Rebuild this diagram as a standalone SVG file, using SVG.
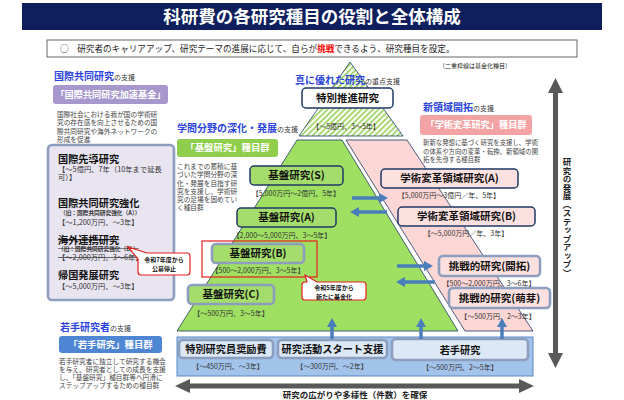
<svg xmlns="http://www.w3.org/2000/svg" width="624" height="400" viewBox="0 0 624 400">
<defs>
<style>
text{font-family:"Noto Sans CJK JP","Noto Sans CJK SC",sans-serif;fill:#222}
.title{font-size:17.5px;font-weight:bold;fill:#fff}
.sub{font-size:8.6px;fill:#222}
.blue{font-size:10px;font-weight:bold;fill:#2b45dc}
.suf{font-size:7px;fill:#333;font-weight:normal}
.desc{font-size:6.7px;fill:#444}
.grp{font-size:9.4px;font-weight:bold;fill:#fff}
.lbl{font-size:10.5px;font-weight:bold;fill:#111}
.llbl{font-size:10.2px;font-weight:bold;fill:#111}
.price{font-size:7px;fill:#333}
.lprice{font-size:7.3px;fill:#333}
.old{font-size:5.7px;font-weight:bold;fill:#333}
.strike{text-decoration:line-through}
.call{font-size:6px;font-weight:bold;fill:#111}
.std{stroke:#1f3864;stroke-width:1.5}
.fund{stroke:#8c9dbd;stroke-width:2.6}
.barr{stroke:#4a7ebb;stroke-width:3.5;fill:none}
.c{text-anchor:middle}
</style>
<pattern id="hatch" patternUnits="userSpaceOnUse" width="4" height="4" patternTransform="rotate(45)">
<rect width="4" height="4" fill="#fff"/>
<line x1="1" y1="0" x2="1" y2="4" stroke="#92d050" stroke-width="1.6"/>
</pattern>
<marker id="ah" viewBox="0 0 9 10" refX="2" refY="5" markerWidth="9" markerHeight="10" markerUnits="userSpaceOnUse" orient="auto">
<path d="M0,0 L9,5 L0,10 z" fill="#4a7ebb"/>
</marker>
</defs>

<!-- title -->
<g id="title">
<rect x="22" y="3" width="580" height="27" fill="#0f1f5e"/>
<text class="title c" x="312" y="23.3">科研費の各研究種目の役割と全体構成</text>
</g>
<g id="subtitle">
<rect x="47" y="40" width="530" height="17" fill="#fff" stroke="#666" stroke-width="1"/>
<text class="sub" x="60" y="51.6">○　研究者のキャリアアップ、研究テーマの進展に応じて、自らが<tspan fill="#ff0000" font-weight="bold">挑戦</tspan>できるよう、研究種目を設定。</text>
</g>
<text class="c" x="475" y="68.2" font-size="6" fill="#333">（二重枠線は基金化種目）</text>

<!-- pyramid shapes -->
<g id="pyramid">
<polygon points="350,62 403,136 299,136" fill="url(#hatch)" stroke="#1f3864" stroke-width="0.8"/>
<polygon points="297,140 342,140 458,331 177,331" fill="#9fe063" stroke="#1f3864" stroke-width="0.8"/>
<polygon points="346,140 407,140 533,331 465,331" fill="#fdd6d6" stroke="#1f3864" stroke-width="0.8"/>
</g>

<!-- left: international -->
<g id="intl-head">
<text x="54" y="79.6"><tspan class="blue">国際共同研究</tspan><tspan class="suf">の支援</tspan></text>
<rect x="53" y="85" width="115" height="19" rx="3" fill="#a698cc"/>
<text class="grp c" x="110.5" y="97.8" style="font-size:9.2px">「国際共同研究加速基金」</text>
<text class="desc" x="57" y="116.9">国際社会における我が国の学術研</text>
<text class="desc" x="57" y="125.2">究の存在感を向上させるための国</text>
<text class="desc" x="57" y="133.5">際共同研究や海外ネットワークの</text>
<text class="desc" x="57" y="141.8">形成を促進</text>
</g>
<g id="intl-box">
<rect x="48" y="145" width="126" height="155" rx="4" fill="#e8e4f0" class="fund"/>
<text class="llbl" x="58" y="163.2">国際先導研究</text>
<text class="lprice" x="58" y="171.6">【～5億円、7年（10年まで延長</text>
<text class="lprice" x="58" y="180.1">可）】</text>
<text class="llbl" x="58" y="206.7">国際共同研究強化</text>
<text class="old" x="60" y="215">（旧：国際共同研究強化（A））</text>
<text class="lprice" x="58" y="224.6">【～1,200万円、～3年】</text>
<text class="llbl strike" x="58" y="243.7">海外連携研究</text>
<text class="old strike" x="58" y="251">（旧：国際共同研究強化（B））</text>
<text class="lprice strike" x="58" y="260.1">【～2,000万円、3～6年】</text>
<text class="llbl" x="58" y="278.7">帰国発展研究</text>
<text class="lprice" x="58" y="288.6">【～5,000万円、～3年】</text>
</g>
<g id="callout-r7">
<path d="M147,253 H187 Q190,253 190,256 V272 Q190,275 187,275 H141 Q138,275 138,272 V259 L128,247 Z" fill="#fff" stroke="#e81e1e" stroke-width="1.2"/>
<text class="call c" x="164" y="261.7">令和7年度から</text>
<text class="call c" x="164" y="270.7">公募停止</text>
</g>

<!-- left bottom: young -->
<g id="young-head">
<text x="60" y="330.6"><tspan class="blue">若手研究者</tspan><tspan class="suf">の支援</tspan></text>
<rect x="59" y="336" width="103" height="17" rx="3" fill="#4f86d4"/>
<text class="grp c" x="110.5" y="347.9">「若手研究」種目群</text>
<text class="desc" x="59" y="364.4">若手研究者に独立して研究する機会</text>
<text class="desc" x="59" y="372.1">を与え、研究者としての成長を支援</text>
<text class="desc" x="59" y="379.8">し、「基盤研究」種目群等へ円滑に</text>
<text class="desc" x="59" y="387.5">ステップアップするための種目群</text>
</g>

<!-- kiban head -->
<g id="kiban-head">
<text x="177" y="131.6"><tspan class="blue">学問分野の深化・発展</tspan><tspan class="suf">の支援</tspan></text>
<rect x="177" y="139" width="101" height="18" rx="3" fill="#8fce4c"/>
<text class="grp c" x="227.5" y="151.4">「基盤研究」種目群</text>
<text class="desc" x="177" y="168.9">これまでの蓄積に基</text>
<text class="desc" x="177" y="177.2">づいた学問分野の深</text>
<text class="desc" x="177" y="185.5">化・発展を目指す研</text>
<text class="desc" x="177" y="193.8">究を支援し、学術研</text>
<text class="desc" x="177" y="202.1">究の足場を固めてい</text>
<text class="desc" x="177" y="210.4">く種目群</text>
</g>

<!-- top -->
<g id="tokubetsu">
<text x="295" y="83.6"><tspan class="blue">真に優れた研究</tspan><tspan class="suf">の重点支援</tspan></text>
<rect x="302" y="88" width="91" height="20" rx="4" fill="#fff" class="std"/>
<text class="lbl c" x="347.5" y="101.8">特別推進研究</text>
<text class="price c" x="346" y="128.5">【～5億円、3～5年】</text>
</g>

<!-- gakujutsu head -->
<g id="henkaku-head">
<text x="423" y="110.6"><tspan class="blue">新領域開拓</tspan><tspan class="suf">の支援</tspan></text>
<rect x="420" y="115" width="112" height="20" rx="3" fill="#f3a3a3"/>
<text class="grp c" x="476" y="128.3" style="font-size:9.2px">「学術変革研究」種目群</text>
<text class="desc" x="423" y="145.3" style="font-size:6.4px">斬新な発想に基づく研究を支援し、学術</text>
<text class="desc" x="423" y="153.5" style="font-size:6.4px">の体系や方向の変革・転換、新領域の開</text>
<text class="desc" x="423" y="161.7" style="font-size:6.4px">拓を先導する種目群</text>
</g>

<!-- kiban boxes -->
<g id="kiban-s">
<rect x="250" y="166" width="93" height="19" rx="4" fill="#a5dd6c" class="std"/>
<text class="lbl c" x="296.5" y="179.3">基盤研究(S)</text>
<text class="price c" x="296" y="195.5">【5,000万円～2億円、5年】</text>
</g>
<g id="kiban-a">
<rect x="237" y="208" width="99" height="19" rx="4" fill="#a5dd6c" class="std"/>
<text class="lbl c" x="286.5" y="221.3">基盤研究(A)</text>
<text class="price c" x="282" y="237.5">【2,000～5,000万円、3～5年】</text>
</g>
<g id="kiban-b">
<rect x="202" y="241" width="115" height="36" fill="none" stroke="#e81e1e" stroke-width="1.2"/>
<rect x="212" y="244" width="92" height="19" rx="4" fill="#a5dd6c" class="fund"/>
<text class="lbl c" x="258" y="257.3">基盤研究(B)</text>
<text class="price c" x="258" y="272.5">【500～2,000万円、3～5年】</text>
</g>
<g id="kiban-c">
<rect x="188" y="285" width="86" height="19" rx="4" fill="#a5dd6c" class="fund"/>
<text class="lbl c" x="231" y="298.3">基盤研究(C)</text>
<text class="price c" x="231" y="315.5">【～500万円、3～5年】</text>
</g>
<g id="callout-r5">
<path d="M317,282 H363 Q366,282 366,285 V297 Q366,300 363,300 H305 Q302,300 302,297 V285 Q302,282 305,282 H307 L305,275 Z" fill="#fff" stroke="#e81e1e" stroke-width="1.2"/>
<text class="call c" x="334" y="290.2">令和5年度から</text>
<text class="call c" x="334" y="298.7">新たに基金化</text>
</g>

<!-- henkaku boxes -->
<g id="henkaku-a">
<rect x="381" y="169" width="137" height="19" rx="4" fill="#fde0e0" class="std"/>
<text class="lbl c" x="449.5" y="182.3">学術変革領域研究(A)</text>
<text class="price c" x="449" y="197.5">【5,000万円～3億円／年、5年】</text>
</g>
<g id="henkaku-b">
<rect x="398" y="207" width="137" height="19" rx="4" fill="#fde0e0" class="std"/>
<text class="lbl c" x="466.5" y="220.3">学術変革領域研究(B)</text>
<text class="price c" x="466" y="235.5">【～5,000万円／年、3年】</text>
</g>
<g id="chosen-kaitaku">
<rect x="439" y="256" width="101" height="20" rx="4" fill="#fde0e0" class="fund"/>
<text class="lbl c" x="489.5" y="269.8">挑戦的研究(開拓)</text>
<text class="price c" x="489" y="285.5">【500～2,000万円、3～6年】</text>
</g>
<g id="chosen-houga">
<rect x="449" y="288" width="101" height="20" rx="4" fill="#fde0e0" class="fund"/>
<text class="lbl c" x="499.5" y="301.8">挑戦的研究(萌芽)</text>
<text class="price c" x="498" y="318.5">【～500万円、2～3年】</text>
</g>

<!-- bottom band -->
<g id="band">
<rect x="177" y="337" width="356" height="39" fill="#a3c4ea" stroke="#5b87c5" stroke-width="1"/>
</g>
<g id="tokubetsu-shorei">
<rect x="179" y="340" width="94" height="18" rx="4" fill="#dde8f6" class="fund"/>
<text class="llbl c" x="226" y="353.2">特別研究員奨励費</text>
<text class="price c" x="228" y="368.5">【～450万円、～3年】</text>
</g>
<g id="start">
<rect x="278" y="340" width="109" height="18" rx="4" fill="#dde8f6" class="fund"/>
<text class="llbl c" x="332.5" y="353.2">研究活動スタート支援</text>
<text class="price c" x="332" y="368.5">【～300万円、～2年】</text>
</g>
<g id="wakate">
<rect x="392" y="339" width="136" height="21" rx="4" fill="#dde8f6" class="fund"/>
<text class="llbl c" x="460" y="353.7">若手研究</text>
<text class="price c" x="460" y="370">【～500万円、2～5年】</text>
</g>

<!-- connectors -->
<g id="connectors">
<line class="barr" x1="352" y1="198" x2="381" y2="198" marker-end="url(#ah)"/>
<line class="barr" x1="387" y1="212" x2="357" y2="212" marker-end="url(#ah)"/>
<line class="barr" x1="397" y1="266" x2="426" y2="266" marker-end="url(#ah)"/>
<line class="barr" x1="435" y1="282" x2="403" y2="282" marker-end="url(#ah)"/>
<line class="barr" x1="332" y1="339" x2="332" y2="325" marker-end="url(#ah)"/>
<line class="barr" x1="421" y1="339" x2="421" y2="325" marker-end="url(#ah)"/>
<line class="barr" x1="502" y1="339" x2="502" y2="325" marker-end="url(#ah)"/>
<polygon points="555.5,78 563,93 558,93 558,353 563,353 555.5,368 548,353 553,353 553,93 548,93" fill="#595959"/>
<polygon points="175,386 190,379 190,383.5 519,383.5 519,379 534,386 519,393 519,388.5 190,388.5 190,393" fill="#595959"/>
</g>
<text x="567" y="158" font-size="8.5" font-weight="bold" fill="#222" style="writing-mode:vertical-rl">研究の発展（ステップアップ）</text>
<text class="c" x="355" y="397.5" font-size="8.5" font-weight="bold" fill="#222">研究の広がりや多様性（件数）を確保</text>
</svg>
